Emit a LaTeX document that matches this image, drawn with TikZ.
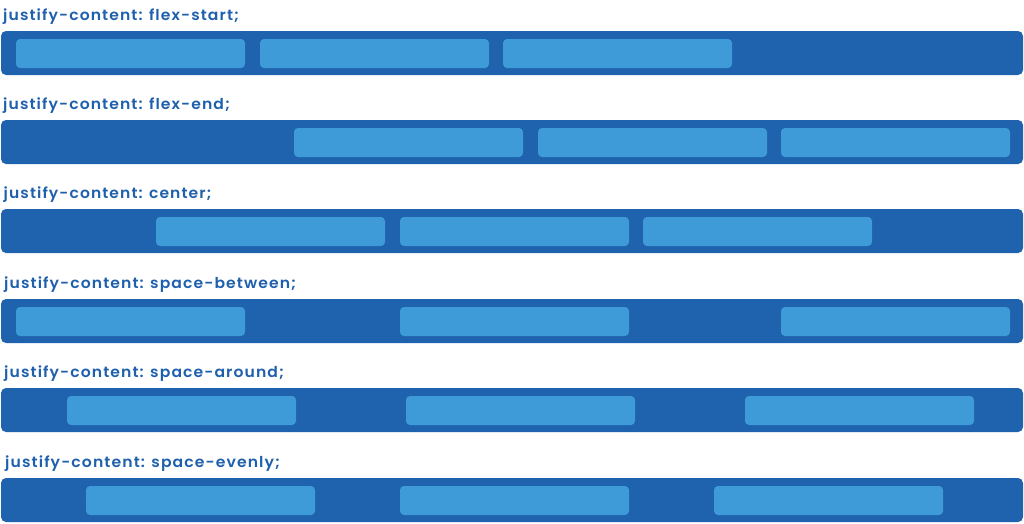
\documentclass[tikz,border=0pt]{standalone}
\usepackage{fontspec}
\setmainfont{Poppins}[UprightFont=* SemiBold, LetterSpace=7]
\definecolor{barblue}{HTML}{1F62AE}
\definecolor{itemblue}{HTML}{3E9BD8}
\definecolor{labelblue}{HTML}{1F60AD}
\tikzset{
  bar/.style={fill=barblue, draw=none, rounded corners=5pt, minimum width=1022pt, minimum height=44pt, anchor=north west, inner sep=0pt, outer sep=0pt},
  item/.style={fill=itemblue, draw=none, rounded corners=4pt, minimum width=229pt, minimum height=29pt, anchor=north west, inner sep=0pt, outer sep=0pt},
  lbl/.style={anchor=base west, inner sep=0pt, text=labelblue, font=\fontsize{15}{18}\selectfont}
}
% #1 id, #2 bar top, #3 label x, #4 label width, #5 label, #6-#8 item left edges
\newcommand{\flexrow}[8]{%
  \node[lbl] (l#1) at (#3,#2-10.3) {\resizebox{#4pt}{\height}{#5}};
  \node[bar] (b#1) at (1,#2) {};
  \node[item] (b#1a) at (#6,#2+8) {};
  \node[item] (b#1b) at (#7,#2+8) {};
  \node[item] (b#1c) at (#8,#2+8) {};
}
\begin{document}
\begin{tikzpicture}[x=1pt,y=-1pt]
\useasboundingbox (0,0) rectangle (1024,523);
\flexrow{1}{31}{3}{236}{justify-content: flex-start;}{16}{260}{503}
\flexrow{2}{120}{3}{227}{justify-content: flex-end;}{294}{538}{781}
\flexrow{3}{209}{3.5}{208}{justify-content: center;}{156}{400}{643}
\flexrow{4}{299}{4}{292}{justify-content: space-between;}{16}{400}{781}
\flexrow{5}{388}{4}{280}{justify-content: space-around;}{67}{406}{745}
\flexrow{6}{478}{5}{275}{justify-content: space-evenly;}{86}{400}{714}
\end{tikzpicture}
\end{document}
